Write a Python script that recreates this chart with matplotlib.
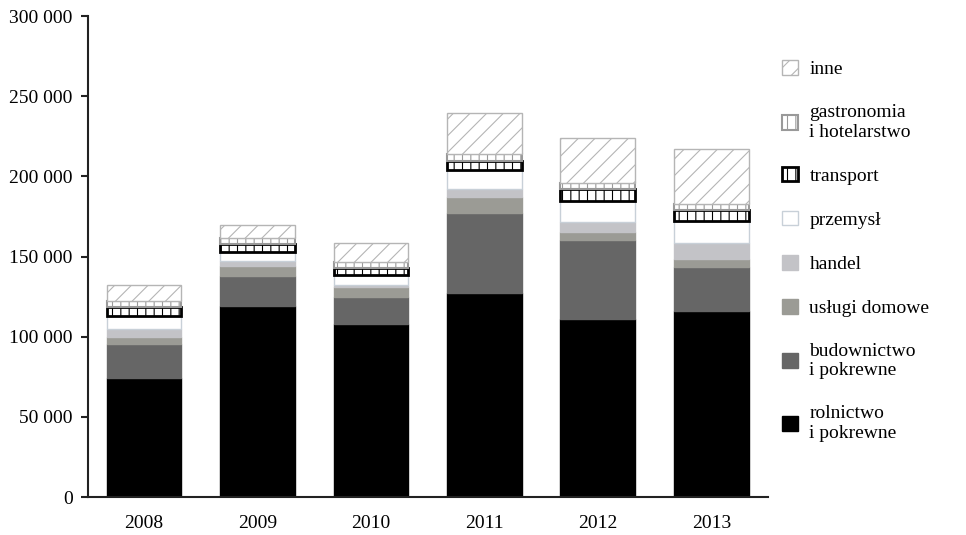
import matplotlib.pyplot as plt
from matplotlib.patches import Patch
from matplotlib.ticker import FuncFormatter

plt.rcParams['font.family'] = ['Liberation Serif', 'DejaVu Serif']
plt.rcParams['hatch.linewidth'] = 0.8

years = ['2008', '2009', '2010', '2011', '2012', '2013']

# values, bottom to top of each stack
rolnictwo = [74200, 119200, 108000, 127500, 111000, 116200]
budownictwo = [21200, 18700, 17000, 49900, 49300, 27500]
uslugi_domowe = [4400, 6200, 6300, 10000, 4800, 4800]
handel = [5000, 3100, 1100, 4700, 6700, 10200]
przemysl = [8100, 5800, 5900, 11900, 12900, 13500]
transport = [5800, 4600, 4500, 5800, 7200, 6800]
gastronomia = [3800, 3800, 3600, 4200, 4100, 3600]
inne = [9800, 8300, 12300, 25700, 27700, 34400]

series = [
    ('rolnictwo\ni pokrewne', rolnictwo, dict(facecolor='#000000', edgecolor='#000000')),
    ('budownictwo\ni pokrewne', budownictwo, dict(facecolor='#666666', edgecolor='#666666')),
    ('usługi domowe', uslugi_domowe, dict(facecolor='#9b9b95', edgecolor='#9b9b95')),
    ('handel', handel, dict(facecolor='#c3c3c7', edgecolor='#c3c3c7')),
    ('przemysł', przemysl, dict(facecolor='white', edgecolor='#c8d0d8', linewidth=1)),
    ('transport', transport, dict(facecolor='white', edgecolor='black', hatch='||', linewidth=2)),
    ('gastronomia\ni hotelarstwo', gastronomia, dict(facecolor='white', edgecolor='#999999', hatch='||', linewidth=1.5)),
    ('inne', inne, dict(facecolor='white', edgecolor='#b5b5b5', hatch='//', linewidth=1)),
]

fig = plt.figure(figsize=(9.66, 5.35), dpi=100)
ax = fig.add_axes([0.0911, 0.071, 0.704, 0.899])

x = list(range(len(years)))
bottom = [0] * len(years)
handles = []
for label, vals, style in series:
    ax.bar(x, vals, width=0.66, bottom=bottom, **style)
    bottom = [b + v for b, v in zip(bottom, vals)]
    handles.append(Patch(label=label, **style))

ax.set_xlim(-0.494, 5.5)
ax.set_ylim(0, 300000)
ax.set_yticks(range(0, 300001, 50000))
ax.yaxis.set_major_formatter(FuncFormatter(lambda v, p: f'{int(v):,}'.replace(',', ' ')))
ax.set_xticks(x)
ax.set_xticklabels(years)

for s in ['top', 'right']:
    ax.spines[s].set_visible(False)
ax.spines['left'].set_linewidth(1.5)
ax.spines['left'].set_color('#222222')
ax.spines['bottom'].set_linewidth(1.5)
ax.spines['bottom'].set_color('#222222')
ax.tick_params(axis='y', length=5, width=1.5, color='#222222', labelsize=14, pad=6)
ax.tick_params(axis='x', length=0, labelsize=14, pad=13)

leg = ax.legend(handles=handles[::-1], loc='upper left', bbox_to_anchor=(0.995, 0.945),
                frameon=False, fontsize=14, handlelength=0.8, handleheight=0.8,
                handletextpad=0.6, labelspacing=1.33)

fig.savefig('out.png', dpi=100)
